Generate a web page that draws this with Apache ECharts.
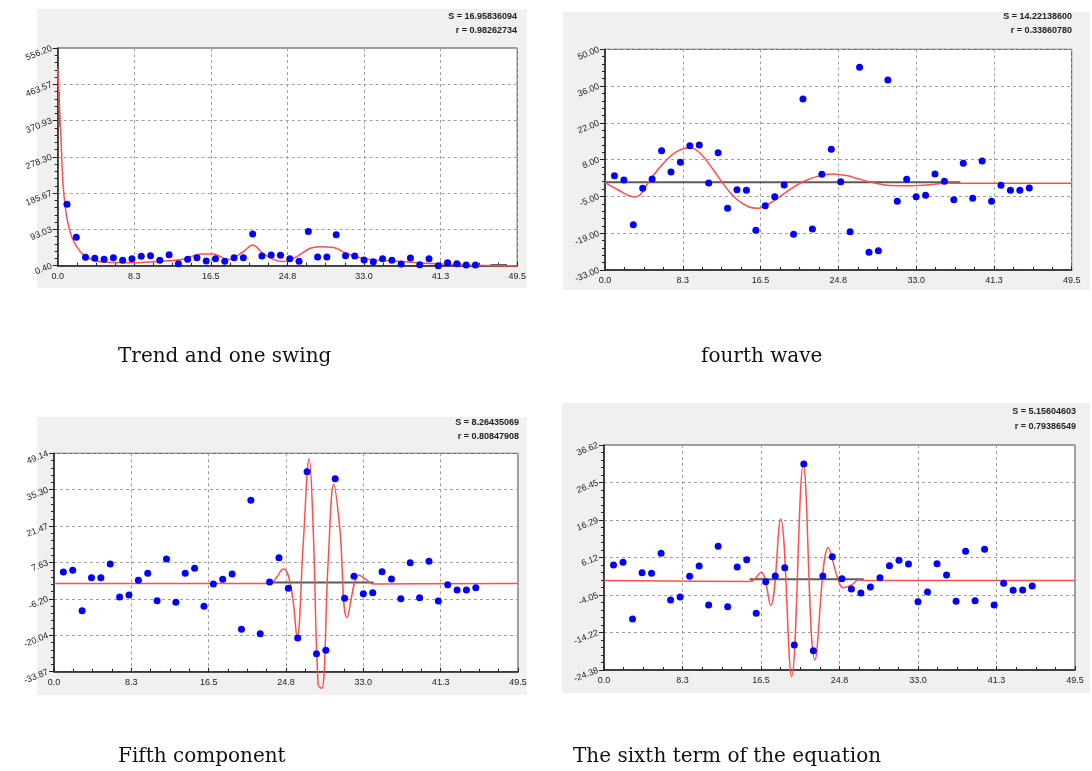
<!DOCTYPE html>
<html><head><meta charset="utf-8">
<script src="https://cdn.jsdelivr.net/npm/echarts@6/dist/echarts.min.js"></script>
<style>html,body{margin:0;padding:0;background:#fff}#c{width:1092px;height:771px}</style>
</head><body><div id="c"></div>
<script>
// ---------- data ----------
const pointX = [1,2,3,4,5,6,7,8,9,10,11,12,13,14,15,16,17,18,19,20,21,22,23,24,25,26,27,28,29,30,31,32,33,34,35,36,37,38,39,40,41,42,43,44,45];
const xTickLabels = ['0.0','8.3','16.5','24.8','33.0','41.3','49.5'];

// Panel 1: Trend and one swing
const trendValues = [157.3,72.9,21.7,19.2,16.6,20.9,14.0,18.3,24.3,26.0,14.0,28.5,5.5,16.6,20.9,12.3,18.3,11.5,20.9,20.9,81.4,25.1,27.7,26.8,18.3,11.5,87.4,22.6,22.6,79.7,26.0,25.1,14.9,10.6,18.3,14.0,4.7,20.0,3.0,18.3,0.4,8.1,5.5,2.1,2.1];
const trendCurve = [[0,504],[0.36,321],[0.6,202],[0.97,125],[1.5,74],[2.05,49],[2.76,28],[3.8,15],[5.3,9],[7.8,8],[10,10],[12,13],[13.5,17],[15.5,30],[16.8,30],[18.3,16],[20,36],[21,53],[22.1,32],[23.3,16],[24.3,11],[25.7,23],[27.2,45],[28.2,49],[29.7,47],[31.1,32],[32.9,19],[36.5,12],[40.1,6],[43.7,2.5],[49.5,0.4]];
const trendBlackA = [[0.12,445],[0.12,356]];
const trendBlackB = [[46.6,2.4],[48.4,2.4]];
const trendYLabels = ['0.40','93.03','185.67','278.30','370.93','463.57','556.20'];
const trendYRange = [0.40, 556.20];
const trendStats = ['S = 16.95836094','r = 0.98262734'];

// Panel 2: fourth wave
const fourthValues = [2.48,0.85,-15.95,-2.28,1.23,11.88,3.86,7.5,13.77,13.98,-0.28,11.13,-9.81,-2.78,-3.04,-18.08,-8.8,-5.42,-1.03,-19.59,31.32,-17.58,2.98,12.39,0.22,-18.58,43.23,-26.36,-25.73,38.47,-7.17,1.1,-5.42,-4.92,3.11,0.35,-6.55,7.12,-6.04,8.0,-7.17,-1.16,-3.04,-3.04,-2.16];
const fourthCurve = [[0,-0.15],[1.41,-2.9],[3.08,-5.5],[3.7,-4.8],[4.77,0.85],[6.19,7.1],[7.6,11.5],[9.0,13.0],[10.1,10.9],[11.5,4.6],[12.9,-2.3],[14.3,-7.3],[16.1,-9.8],[17.5,-7.9],[19.3,-3.5],[21.0,0.2],[22.8,2.5],[24.2,3.1],[25.6,2.5],[27.05,1.1],[28.5,-0.15],[30.2,-1.2],[32.7,-1.3],[34.1,-1.0],[36.2,-0.4],[49.5,-0.4]];
const fourthBlack = [[0,0],[37.7,0]];
const fourthYLabels = ['-33.00','-19.00','-5.00','8.00','22.00','36.00','50.00'];
const fourthYRange = [-33, 50];
const fourthStats = ['S = 14.22138600','r = 0.33860780'];

// Panel 3: Fifth component
const fifthValues = [4.02,4.66,-10.68,1.87,1.87,7.07,-5.48,-4.72,0.86,3.52,-6.87,8.97,-7.51,3.52,5.42,-9.03,-0.54,1.24,3.26,-17.77,31.27,-19.42,0.22,9.47,-2.19,-21.07,42.17,-27.02,-25.76,39.51,-5.99,2.38,-4.21,-3.83,4.15,1.36,-6.11,7.57,-5.73,8.08,-7.0,-0.79,-2.82,-2.82,-1.93];
const fifthCurve = [[0,-0.3],[23.0,-0.3],[23.74,1.9],[24.45,5.2],[24.98,2.9],[25.52,-7.3],[25.94,-21.2],[26.58,14.3],[27.22,47.2],[27.65,20.6],[28.18,-38.9],[28.57,-40.2],[29.25,8.0],[29.85,37.4],[30.49,20.6],[31.27,-13.3],[32.55,2.9],[33.33,1.0],[34.04,-0.5],[49.5,-0.3]];
const fifthBlack = [[23.0,0],[34.1,0]];
const fifthYLabels = ['-33.87','-20.04','-6.20','7.63','21.47','35.30','49.14'];
const fifthYRange = [-33.87, 49.14];
const fifthStats = ['S = 8.26435069','r = 0.80847908'];

// Panel 4: The sixth term of the equation
const sixthValues = [4.09,4.81,-10.55,2.01,1.83,7.25,-5.4,-4.59,1.01,3.82,-6.76,9.15,-7.21,3.54,5.53,-9.02,-0.43,1.1,3.36,-17.6,31.47,-19.14,1.1,6.35,0.38,-2.42,-3.5,-1.88,0.65,3.91,5.35,4.36,-5.85,-3.23,4.45,1.38,-5.76,7.79,-5.58,8.33,-6.76,-0.88,-2.78,-2.69,-1.61];
const sixthCurve = [[0,-0.1],[15.34,-0.4],[16.5,2.1],[17.51,-6.9],[18.56,16.6],[19.72,-26.2],[20.95,31.2],[22.17,-21.7],[23.57,8.8],[24.62,0.0],[25.15,-2.1],[26.02,-1.3],[26.73,0.0],[27.6,-0.1],[49.5,-0.1]];
const sixthBlack = [[15.3,0.2],[27.3,0.2]];
const sixthYLabels = ['-24.38','-14.22','-4.05','6.12','16.29','26.45','36.62'];
const sixthYRange = [-24.38, 36.62];
const sixthStats = ['S = 5.15604603','r = 0.79386549'];

const captions = ['Trend and one swing','fourth wave','Fifth component','The sixth term of the equation'];

// ---------- layout ----------
const panels = [
  {grid:{left:57.7,top:48,width:459.5,height:217.7}, bg:[37,9,490,279], statsAt:[517,17,31], capAt:[118,357],
   values:trendValues, curves:[trendCurve], blacks:[trendBlackA,trendBlackB], yLabels:trendYLabels, yRange:trendYRange, stats:trendStats, caption:captions[0]},
  {grid:{left:605,top:49.3,width:466.7,height:220.7}, bg:[563,12,527,278], statsAt:[1072,17,31], capAt:[701,357],
   values:fourthValues, curves:[fourthCurve], blacks:[fourthBlack], yLabels:fourthYLabels, yRange:fourthYRange, stats:fourthStats, caption:captions[1]},
  {grid:{left:54,top:453.3,width:464,height:218.4}, bg:[37,417,490,278], statsAt:[519,423,437], capAt:[118,757],
   values:fifthValues, curves:[fifthCurve], blacks:[fifthBlack], yLabels:fifthYLabels, yRange:fifthYRange, stats:fifthStats, caption:captions[2]},
  {grid:{left:604,top:445,width:471,height:225}, bg:[562,403,528,290], statsAt:[1076,412,427], capAt:[573,757],
   values:sixthValues, curves:[sixthCurve], blacks:[sixthBlack], yLabels:sixthYLabels, yRange:sixthYRange, stats:sixthStats, caption:captions[3]}
];

const labelFont = 'Liberation Sans';
const xInt = 8.25;
const option = {animation:false, grid:[], xAxis:[], yAxis:[], series:[], graphic:{elements:[]}};

// main axes (indices 0..3)
panels.forEach((p,i)=>{
  option.grid.push(Object.assign({show:true, backgroundColor:'#ffffff', borderColor:'#444', borderWidth:1, containLabel:false, outerBoundsMode:'none'}, p.grid));
  option.xAxis.push({
    type:'value', gridIndex:i, position:'bottom', min:0, max:49.5, interval:xInt,
    axisLine:{show:true, onZero:false, lineStyle:{color:'#222', width:1.5}},
    axisTick:{show:true, inside:true, length:4, lineStyle:{color:'#222', width:1}},
    splitLine:{show:true, lineStyle:{type:[3,3], color:'#a0a0a0', width:1}},
    axisLabel:{show:true, showMinLabel:true, showMaxLabel:true, hideOverlap:false, fontSize:9, color:'#222', fontFamily:labelFont, margin:6,
      formatter:(v)=> xTickLabels[Math.round(v/xInt)] }
  });
  const ymin = p.yRange[0], ymax = p.yRange[1], yInt = (ymax-ymin)/6;
  option.yAxis.push({
    type:'value', gridIndex:i, position:'left', min:ymin, max:ymax, interval:yInt,
    axisLine:{show:true, onZero:false, lineStyle:{color:'#222', width:1.5}},
    axisTick:{show:true, inside:false, length:5, lineStyle:{color:'#222', width:1}},
    splitLine:{show:true, lineStyle:{type:[3,3], color:'#a0a0a0', width:1}},
    axisLabel:{show:true, showMinLabel:true, showMaxLabel:true, hideOverlap:false, rotate:22, fontSize:9, color:'#222', fontFamily:labelFont, margin:6,
      formatter:(v)=> p.yLabels[Math.round((v-ymin)/yInt)] }
  });
});
// minor-tick axes (indices 4..7)
panels.forEach((p,i)=>{
  option.xAxis.push({
    type:'value', gridIndex:i, position:'bottom', offset:0, min:0, max:49.5, interval:xInt/4,
    axisLine:{show:false, onZero:false}, axisLabel:{show:false}, splitLine:{show:false},
    axisTick:{show:true, inside:true, length:3, lineStyle:{color:'#222', width:1}}
  });
  const ymin = p.yRange[0], ymax = p.yRange[1], yInt = (ymax-ymin)/6;
  option.yAxis.push({
    type:'value', gridIndex:i, position:'left', offset:0, min:ymin, max:ymax, interval:yInt/5,
    axisLine:{show:false, onZero:false}, axisLabel:{show:false}, splitLine:{show:false},
    axisTick:{show:true, inside:false, length:3, lineStyle:{color:'#222', width:1}}
  });
});

panels.forEach((p,i)=>{
  p.curves.forEach(c=>{
    option.series.push({type:'line', xAxisIndex:i, yAxisIndex:i, data:c, showSymbol:false, symbol:'none', smooth:0.4, silent:true,
      lineStyle:{color:'#ff4f4f', width:1.5}, z:3, clip:false});
  });
  p.blacks.forEach(b=>{
    option.series.push({type:'line', xAxisIndex:i, yAxisIndex:i, data:b, showSymbol:false, symbol:'none', silent:true,
      lineStyle:{color:'#5a5a5a', width:2}, z:2, clip:false});
  });
  option.series.push({type:'scatter', xAxisIndex:i, yAxisIndex:i, data:pointX.map((x,k)=>[x,p.values[k]]),
    symbol:'circle', symbolSize:7, itemStyle:{color:'#0000ff', opacity:1}, z:5, silent:true});

  option.graphic.elements.push({type:'rect', z:-100, silent:true, shape:{x:p.bg[0], y:p.bg[1], width:p.bg[2], height:p.bg[3]}, style:{fill:'#f0f0f0'}});
  option.graphic.elements.push({type:'text', z:10, silent:true, x:p.statsAt[0], y:p.statsAt[1],
    style:{text:p.stats[0], font:'bold 9px "Liberation Sans"', fill:'#222', textAlign:'right', textVerticalAlign:'middle'}});
  option.graphic.elements.push({type:'text', z:10, silent:true, x:p.statsAt[0], y:p.statsAt[2],
    style:{text:p.stats[1], font:'bold 9px "Liberation Sans"', fill:'#222', textAlign:'right', textVerticalAlign:'middle'}});
  option.graphic.elements.push({type:'text', z:10, silent:true, x:p.capAt[0], y:p.capAt[1],
    style:{text:p.caption, font:'20px "DejaVu Serif"', fill:'#111', textAlign:'left', textVerticalAlign:'middle'}});
});

const chart = echarts.init(document.getElementById('c'), null, {renderer:'canvas'});
chart.setOption(option);
</script>
</body></html>
